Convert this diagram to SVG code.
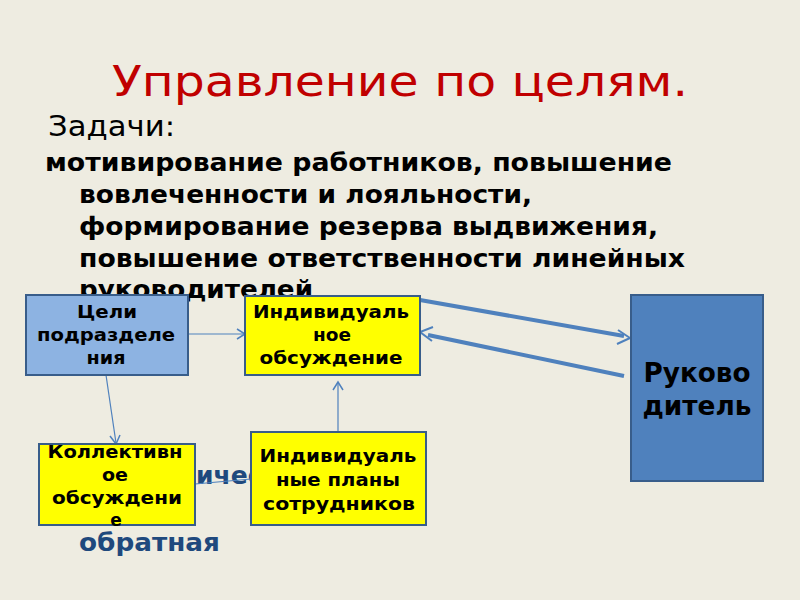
<svg xmlns="http://www.w3.org/2000/svg" width="800" height="600" viewBox="0 0 800 600">
<defs>
<style>
.bg{fill:#EEECE1}
.title{font-family:"DejaVu Sans","Liberation Sans",sans-serif;font-size:43px;fill:#C00000}
.sub{font-family:"DejaVu Sans","Liberation Sans",sans-serif;font-size:28px;fill:#000}
.body{font-family:"DejaVu Sans Condensed","DejaVu Sans","Liberation Sans",sans-serif;font-stretch:condensed;font-size:25px;font-weight:bold;fill:#000}
.blue{font-family:"DejaVu Sans","Liberation Sans",sans-serif;font-size:25px;font-weight:bold;fill:#1F497D}
.box{stroke:#385D8A;stroke-width:2}
.lb{fill:#8DB3E2}
.yl{fill:#FFFF00}
.db{fill:#4F81BD}
.bt{font-family:"DejaVu Sans","Liberation Sans",sans-serif;font-size:17px;font-weight:bold;fill:#000;text-anchor:middle}
.big{font-family:"DejaVu Sans Condensed","DejaVu Sans","Liberation Sans",sans-serif;font-stretch:condensed;font-size:27px;font-weight:bold;fill:#000;text-anchor:middle}
.thin{stroke:#4F81BD;stroke-width:1.2;fill:none}
.thick{stroke:#4F81BD;stroke-width:4;fill:none}
.head{stroke:#4F81BD;stroke-width:1.5;fill:none}
</style>
</defs>
<rect class="bg" x="0" y="0" width="800" height="600"/>
<text class="title" x="112" y="96" textLength="576" lengthAdjust="spacingAndGlyphs">Управление по целям.</text>
<text class="sub" x="48" y="136" textLength="127" lengthAdjust="spacingAndGlyphs">Задачи:</text>
<text class="body" x="45" y="171" textLength="627" lengthAdjust="spacingAndGlyphs">мотивирование работников, повышение</text>
<text class="body" x="79" y="203" textLength="453" lengthAdjust="spacingAndGlyphs">вовлеченности и лояльности,</text>
<text class="body" x="79" y="235" textLength="579" lengthAdjust="spacingAndGlyphs">формирование резерва выдвижения,</text>
<text class="body" x="79" y="267" textLength="606" lengthAdjust="spacingAndGlyphs">повышение ответственности линейных</text>
<text class="body" x="79" y="298" textLength="234" lengthAdjust="spacingAndGlyphs">руководителей</text>
<text class="blue" x="196" y="484">ичес</text>
<text class="blue" x="79" y="551" textLength="141" lengthAdjust="spacingAndGlyphs">обратная</text>
<g id="connectors">
<line class="thin" x1="188" y1="334" x2="244" y2="334"/>
<polyline class="head" points="237,329 245,334 237,339"/>
<line class="thin" x1="106" y1="375" x2="116" y2="443"/>
<polyline class="head" points="110,436 116,444 120,435"/>
<line class="thin" x1="338" y1="432" x2="338" y2="383"/>
<polyline class="head" points="333,390 338,382 343,390"/>
<line class="thin" x1="195" y1="484" x2="251" y2="479"/>
<line class="thick" x1="420" y1="300" x2="624" y2="336"/>
<polyline class="head" points="618,330 630,338 617,344" style="stroke-width:2"/>
<line class="thick" x1="624" y1="376" x2="428" y2="335"/>
<polyline class="head" points="433,327 420,332 432,341" style="stroke-width:2"/>
</g>
<g id="node-celi">
<rect class="box lb" x="26" y="295" width="162" height="80"/>
<text class="bt" x="107" y="318" textLength="60" lengthAdjust="spacingAndGlyphs">Цели</text>
<text class="bt" x="106" y="341" textLength="138" lengthAdjust="spacingAndGlyphs">подразделе</text>
<text class="bt" x="106" y="364" textLength="39" lengthAdjust="spacingAndGlyphs">ния</text>
</g>
<g id="node-ind-obsuzhdenie">
<rect class="box yl" x="245" y="296" width="175" height="79"/>
<text class="bt" x="331" y="318" textLength="156" lengthAdjust="spacingAndGlyphs">Индивидуаль</text>
<text class="bt" x="332" y="341" textLength="38" lengthAdjust="spacingAndGlyphs">ное</text>
<text class="bt" x="331" y="364" textLength="143" lengthAdjust="spacingAndGlyphs">обсуждение</text>
</g>
<g id="node-rukovoditel">
<rect class="box db" x="631" y="295" width="132" height="186"/>
<text class="big" x="697" y="382" textLength="107" lengthAdjust="spacingAndGlyphs">Руково</text>
<text class="big" x="697" y="415" textLength="109" lengthAdjust="spacingAndGlyphs">дитель</text>
</g>
<g id="node-kollektivnoe">
<rect class="box yl" x="39" y="444" width="156" height="81"/>
<text class="bt" x="115" y="458" textLength="135" lengthAdjust="spacingAndGlyphs">Коллективн</text>
<text class="bt" x="115" y="481" textLength="26" lengthAdjust="spacingAndGlyphs">ое</text>
<text class="bt" x="117" y="504" textLength="130" lengthAdjust="spacingAndGlyphs">обсуждени</text>
<text class="bt" x="116" y="526">е</text>
</g>
<g id="node-ind-plany">
<rect class="box yl" x="251" y="432" width="175" height="93"/>
<text class="bt" x="338" y="462" textLength="157" lengthAdjust="spacingAndGlyphs">Индивидуаль</text>
<text class="bt" x="338" y="486" textLength="124" lengthAdjust="spacingAndGlyphs">ные планы</text>
<text class="bt" x="339" y="510" textLength="152" lengthAdjust="spacingAndGlyphs">сотрудников</text>
</g>
</svg>
